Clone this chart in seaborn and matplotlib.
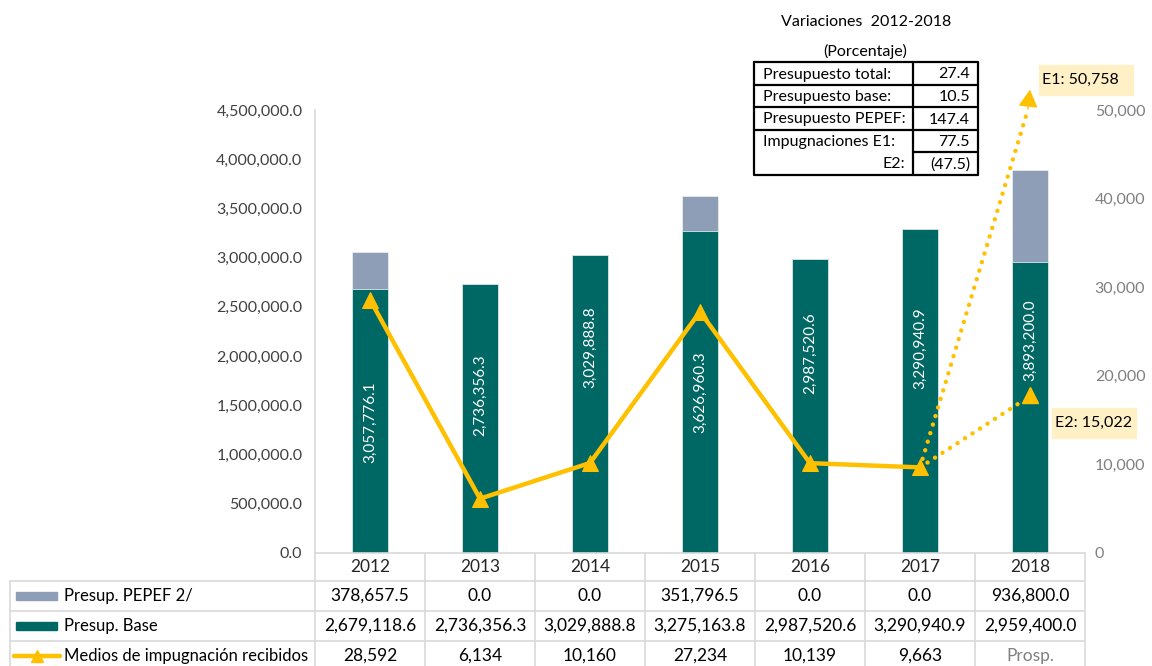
import matplotlib
matplotlib.use("Agg")
import matplotlib.pyplot as plt
import seaborn as sns
import numpy as np
import pandas as pd
from matplotlib.patches import Rectangle

# ---------------- data ----------------
years = ["2012", "2013", "2014", "2015", "2016", "2017", "2018"]
pepef = [378657.5, 0.0, 0.0, 351796.5, 0.0, 0.0, 936800.0]
base = [2679118.6, 2736356.3, 3029888.8, 3275163.8, 2987520.6, 3290940.9, 2959400.0]
totals = [3057776.1, 2736356.3, 3029888.8, 3626960.3, 2987520.6, 3290940.9, 3893200.0]
medios = [28592, 6134, 10160, 27234, 10139, 9663]
medios_labels = ["28,592", "6,134", "10,160", "27,234", "10,139", "9,663", "Prosp."]
proj_e1_label = "E1: 50,758"
proj_e2_label = "E2: 15,022"
proj_e1_value = 52300   # (arrow tip)
proj_e2_value = 17800   # (marker)
bar_label_pos = [1.33e6, 1.60e6, 2.09e6, 1.63e6, 2.03e6, 2.08e6, 2.16e6]

var_rows = ["Presupuesto total:", "Presupuesto base:", "Presupuesto PEPEF:", "Impugnaciones E1:", "E2:"]
var_vals = ["27.4", "10.5", "147.4", "77.5", "(47.5)"]

left_ticks = [0, 500000, 1000000, 1500000, 2000000, 2500000, 3000000, 3500000, 4000000, 4500000]
right_ticks = [0, 10000, 20000, 30000, 40000, 50000]

TEAL = "#006864"
SLATE = "#8E9EB6"
GOLD = "#FFC000"
GRID = "#D9D9D9"
BOXFILL = "#FFF0C6"

sns.set_theme(style="white")
plt.rcParams["font.family"] = ["Lato", "DejaVu Sans"]

W, H = 1152, 666
fig = plt.figure(figsize=(W / 100, H / 100), dpi=100)

# plot area in pixels
L, R, T, B = 315, 1085, 110, 553
ax = fig.add_axes([L / W, (H - B) / H, (R - L) / W, (B - T) / H])

df = pd.DataFrame({"year": years, "total": totals, "base": base})
sns.barplot(data=df, x="year", y="total", color=SLATE, saturation=1, width=0.32,
            edgecolor="#E8ECEF", linewidth=0.6, ax=ax)
sns.barplot(data=df, x="year", y="base", color=TEAL, saturation=1, width=0.32,
            edgecolor="#DDE8E8", linewidth=0.6, ax=ax)
ax.set_xlim(-0.5, 6.5)
ax.set_ylim(0, 4500000)
ax.set_yticks(left_ticks)
ax.set_yticklabels([f"{v:,.1f}" for v in left_ticks], fontsize=11.5, color="#404040")
ax.tick_params(axis="y", length=0, pad=9)
ax.tick_params(axis="x", length=0, labelbottom=False)
ax.set_xlabel("")
ax.set_ylabel("")
for s in ["top", "right"]:
    ax.spines[s].set_visible(False)
for s in ["left", "bottom"]:
    ax.spines[s].set_color(GRID)
    ax.spines[s].set_linewidth(1.2)

for i, (t, yp) in enumerate(zip(totals, bar_label_pos)):
    ax.text(i, yp, f"{t:,.1f}", rotation=90, ha="center", va="center",
            color="white", fontsize=11)

ax2 = ax.twinx()
idx = np.arange(len(medios))
sns.lineplot(x=idx, y=medios, ax=ax2, color=GOLD, linewidth=3.2, marker="^",
             markersize=11, markeredgecolor=GOLD, zorder=3)
ax2.set_ylim(0, 50000)
ax2.set_xlim(-0.5, 6.5)
ax2.set_yticks(right_ticks)
ax2.set_yticklabels([f"{v:,.0f}" for v in right_ticks], fontsize=11.5, color="#7F7F7F")
ax2.tick_params(axis="y", length=0, pad=7)
ax2.set_ylabel("")
for s in ["top", "right", "left", "bottom"]:
    ax2.spines[s].set_visible(False)

# projections
x_last = len(medios) - 1
x_proj = len(years) - 1
dot = (0, (0.01, 2.0))
ax2.plot([x_last, x_proj - 0.025], [medios[-1], proj_e1_value - 2500], color=GOLD, lw=3.2,
         linestyle=dot, dash_capstyle="round", clip_on=False)
ax2.annotate("", xy=(x_proj, proj_e1_value), xytext=(x_proj - 0.02, proj_e1_value - 2200),
             arrowprops=dict(arrowstyle="-|>,head_length=0.9,head_width=0.5", color=GOLD, lw=1,
                             shrinkA=0, shrinkB=0),
             annotation_clip=False)
ax2.plot([x_last, x_proj - 0.1], [medios[-1], proj_e2_value - 900], color=GOLD, lw=3.2,
         linestyle=dot, dash_capstyle="round")
ax2.plot([x_proj], [proj_e2_value], marker="^", markersize=11, color=GOLD)

# overlay in pixel coordinates for table & annotations
ov = fig.add_axes([0, 0, 1, 1], zorder=5)
ov.set_xlim(0, W)
ov.set_ylim(H, 0)
ov.axis("off")

# bottom data table
rows_y = [553, 581, 611, 641, 671]
colw = (R - L) / len(years)
for k in range(len(years) + 1):
    x = L + colw * k
    ov.plot([x, x], [553, H], color=GRID, lw=1.2)
ov.plot([10, 10], [581, H], color=GRID, lw=1.2)
for y in rows_y[1:4]:
    ov.plot([10, R], [y, y], color=GRID, lw=1.2)

fs_tab = 12.5
for i, yr in enumerate(years):
    cx = L + colw * (i + 0.5)
    ov.text(cx, 567, yr, ha="center", va="center", fontsize=fs_tab, color="#262626")
    ov.text(cx, 596, f"{pepef[i]:,.1f}", ha="center", va="center", fontsize=fs_tab, color="black")
    ov.text(cx, 626, f"{base[i]:,.1f}", ha="center", va="center", fontsize=fs_tab, color="black")
    ov.text(cx, 656, medios_labels[i], ha="center", va="center", fontsize=fs_tab,
            color="#808080" if medios_labels[i] == "Prosp." else "black")

ov.add_patch(Rectangle((16, 592), 41, 8, color=SLATE))
ov.add_patch(Rectangle((16, 622), 41, 8, color=TEAL))
ov.plot([14, 60], [656, 656], color=GOLD, lw=3.2)
ov.plot([37], [656], marker="^", markersize=9, color=GOLD)
fs_leg = 12
ov.text(64, 596, "Presup. PEPEF 2/", ha="left", va="center", fontsize=fs_leg, color="black")
ov.text(64, 626, "Presup. Base", ha="left", va="center", fontsize=fs_leg, color="black")
ov.text(64, 656, "Medios de impugnación recibidos", ha="left", va="center", fontsize=fs_leg, color="black")

# variations table
ov.text(866, 22, "Variaciones  2012-2018", ha="center", va="center", fontsize=11.5, color="black")
ov.text(865, 51, "(Porcentaje)", ha="center", va="center", fontsize=11.5, color="black")
tx0, tx1, tx2 = 754, 913, 978
ty = [62, 85, 107, 130, 152, 175]
lwb = 1.6
ov.plot([tx0, tx2, tx2, tx0, tx0], [ty[0], ty[0], ty[-1], ty[-1], ty[0]], color="black", lw=lwb)
ov.plot([tx1, tx1], [ty[0], ty[-1]], color="black", lw=lwb)
for y in ty[1:4]:
    ov.plot([tx0, tx2], [y, y], color="black", lw=lwb)
ov.plot([tx1, tx2], [ty[4], ty[4]], color="black", lw=lwb)
for j, (lab, val) in enumerate(zip(var_rows, var_vals)):
    yc = (ty[j] + ty[j + 1]) / 2 + 1
    if lab == "E2:":
        ov.text(905, yc, lab, ha="right", va="center", fontsize=11.5, color="black")
    else:
        ov.text(763, yc, lab, ha="left", va="center", fontsize=11.5, color="black")
    ov.text(970, yc, val, ha="right", va="center", fontsize=11.5, color="black")

# projection labels
ov.add_patch(Rectangle((1039, 65), 94, 30, color=BOXFILL))
ov.text(1042, 80, proj_e1_label, ha="left", va="center", fontsize=11.5, color="black")
ov.add_patch(Rectangle((1052, 408), 84, 30, color=BOXFILL))
ov.text(1055, 423, proj_e2_label, ha="left", va="center", fontsize=11.5, color="black")

fig.savefig("out.png", dpi=100)
